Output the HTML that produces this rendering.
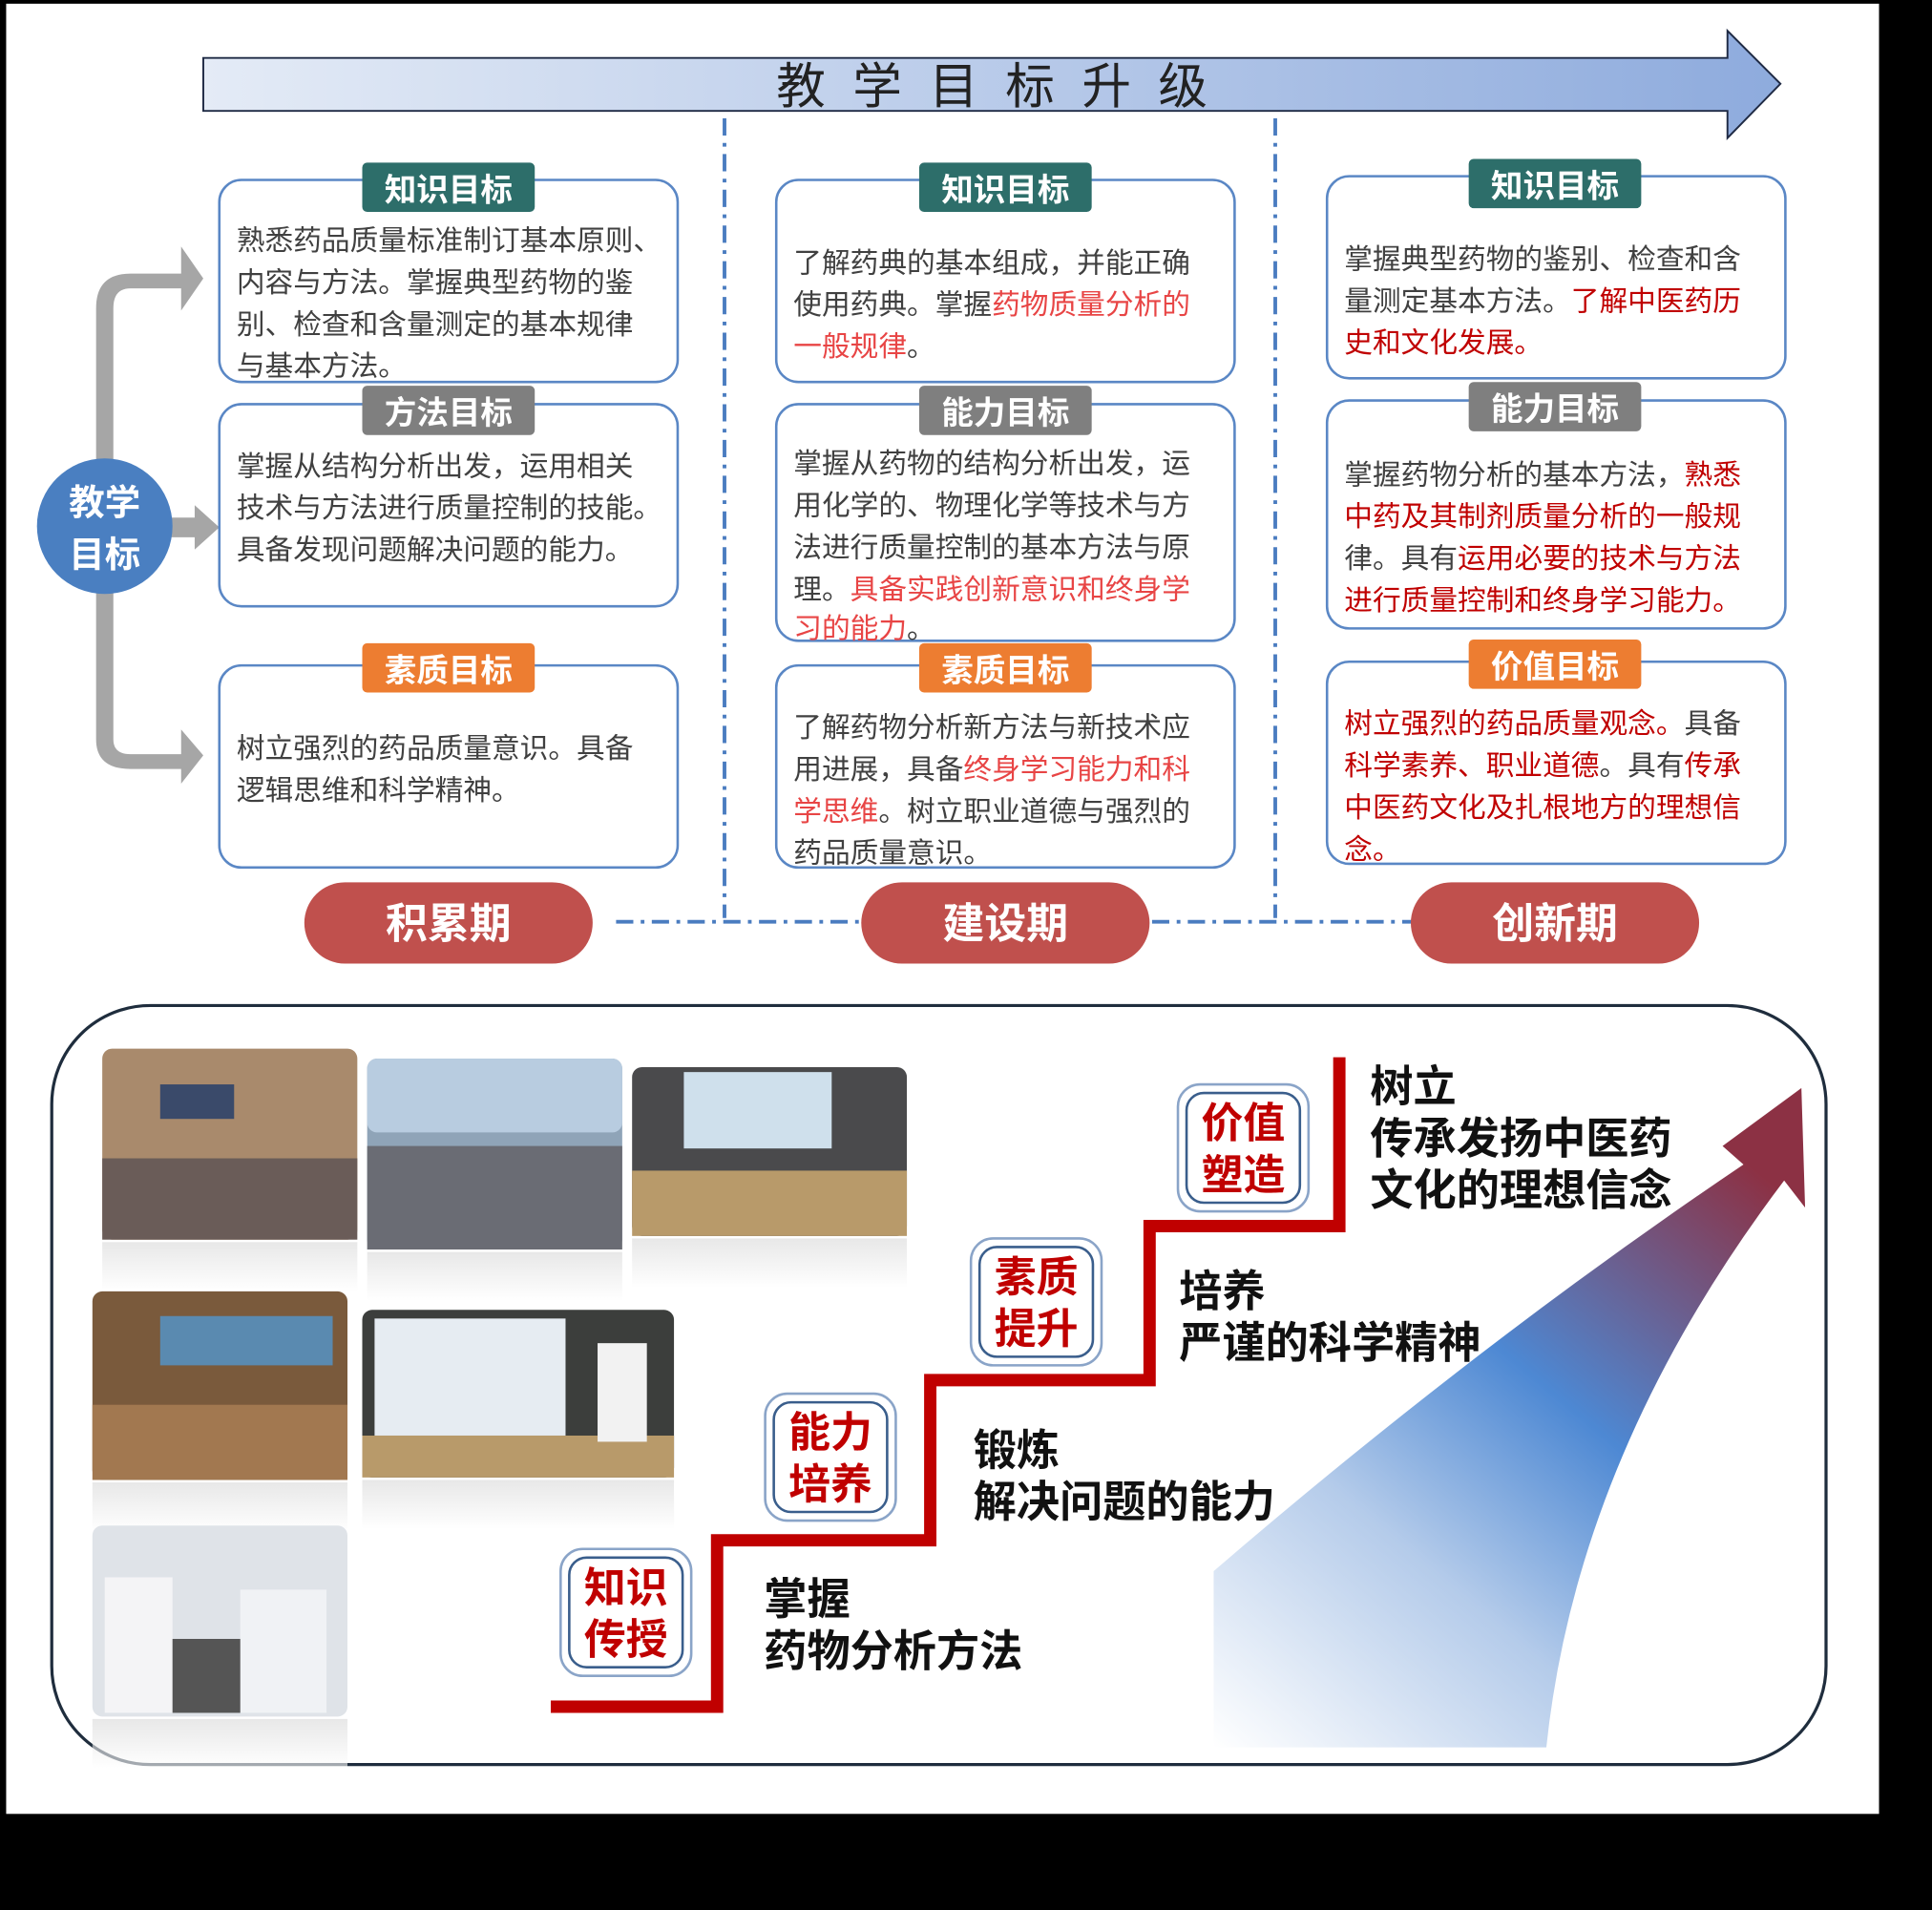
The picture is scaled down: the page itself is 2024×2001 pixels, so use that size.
<!DOCTYPE html>
<html><head><meta charset="utf-8"><style>
html,body{margin:0;padding:0;background:#000;width:2024px;height:2001px;overflow:hidden}
#wrap{width:1568px;height:1550px;transform:scale(1.29082,1.29097);transform-origin:0 0;position:relative}
svg{position:absolute;left:0;top:0}
text{font-family:"Liberation Sans","Noto Sans CJK SC",sans-serif}
</style></head><body><div id="wrap">
<svg width="1568" height="1550" viewBox="0 0 1568 1550" xmlns="http://www.w3.org/2000/svg">
<defs>
<linearGradient id="tg" x1="0" x2="1" y1="0" y2="0"><stop offset="0" stop-color="#e4ebf6"/><stop offset="1" stop-color="#8eabdd"/></linearGradient>
<linearGradient id="ag" x1="0" y1="1" x2="0.75" y2="0"><stop offset="0" stop-color="#ffffff"/><stop offset="0.35" stop-color="#b4cbea"/><stop offset="0.62" stop-color="#4d88d3"/><stop offset="1" stop-color="#8c3144"/></linearGradient>
<linearGradient id="rf" x1="0" y1="0" x2="0" y2="1"><stop offset="0" stop-color="#d8d8d8"/><stop offset="1" stop-color="#ffffff"/></linearGradient>
</defs>
<rect x="5" y="3" width="1520" height="1469" fill="#fff"/>
<path d="M165 47 H1402 V25 L1445 68 L1402 112 V90 H165 Z" fill="url(#tg)" stroke="#1f2a44" stroke-width="1.5"/>
<text x="816" y="84" font-size="40" fill="#222" text-anchor="middle" letter-spacing="22">教学目标升级</text>
<g stroke="#4a7cc0" stroke-width="3" stroke-dasharray="14,6,3,6" fill="none">
<line x1="588" y1="96" x2="588" y2="745"/><line x1="1035" y1="96" x2="1035" y2="745"/>
<line x1="500" y1="748" x2="698" y2="748"/><line x1="935" y1="748" x2="1148" y2="748"/>
</g>
<g fill="#a6a6a6">
<path d="M78 250 Q78 222 106 222 H147 V200 L165 226 L147 252 V234 H106 Q92 234 92 250 V600 Q92 612 106 612 H147 V592 L165 613 L147 636 V624 H106 Q78 624 78 600 Z"/>
<path d="M130 420 H158 V410 L178 428 L158 446 V436 H130 Z"/>
</g>
<circle cx="85" cy="427" r="55" fill="#4a7fc1"/>
<text x="85" y="418" font-size="29" font-weight="bold" fill="#fff" text-anchor="middle">教学</text>
<text x="85" y="460" font-size="29" font-weight="bold" fill="#fff" text-anchor="middle">目标</text>
<g fill="#fff" stroke="#5a87c5" stroke-width="2">
<rect x="178" y="146" width="372" height="164" rx="18"/><rect x="178" y="328" width="372" height="164" rx="18"/><rect x="178" y="540" width="372" height="164" rx="18"/>
<rect x="630" y="146" width="372" height="164" rx="18"/><rect x="630" y="328" width="372" height="192" rx="18"/><rect x="630" y="540" width="372" height="164" rx="18"/>
<rect x="1077" y="143" width="372" height="164" rx="18"/><rect x="1077" y="325" width="372" height="185" rx="18"/><rect x="1077" y="537" width="372" height="164" rx="18"/>
</g>
<g font-size="26" font-weight="bold" fill="#fff" text-anchor="middle">
<rect x="294" y="132" width="140" height="40" rx="4" fill="#2d6e6a"/><text x="364" y="163">知识目标</text>
<rect x="294" y="313" width="140" height="40" rx="4" fill="#7f7f7f"/><text x="364" y="344">方法目标</text>
<rect x="294" y="522" width="140" height="40" rx="4" fill="#ed7d31"/><text x="364" y="553">素质目标</text>
<rect x="746" y="132" width="140" height="40" rx="4" fill="#2d6e6a"/><text x="816" y="163">知识目标</text>
<rect x="746" y="313" width="140" height="40" rx="4" fill="#7f7f7f"/><text x="816" y="344">能力目标</text>
<rect x="746" y="522" width="140" height="40" rx="4" fill="#ed7d31"/><text x="816" y="553">素质目标</text>
<rect x="1192" y="129" width="140" height="40" rx="4" fill="#2d6e6a"/><text x="1262" y="160">知识目标</text>
<rect x="1192" y="310" width="140" height="40" rx="4" fill="#7f7f7f"/><text x="1262" y="341">能力目标</text>
<rect x="1192" y="519" width="140" height="40" rx="4" fill="#ed7d31"/><text x="1262" y="550">价值目标</text>
</g>
<g font-size="23" fill="#404040">
<text x="192" y="203">熟悉药品质量标准制订基本原则、</text>
<text x="192" y="237">内容与方法。掌握典型药物的鉴</text>
<text x="192" y="271">别、检查和含量测定的基本规律</text>
<text x="192" y="305">与基本方法。</text>
<text x="192" y="386">掌握从结构分析出发，运用相关</text>
<text x="192" y="420">技术与方法进行质量控制的技能。</text>
<text x="192" y="454">具备发现问题解决问题的能力。</text>
<text x="192" y="615">树立强烈的药品质量意识。具备</text>
<text x="192" y="649">逻辑思维和科学精神。</text>
<text x="644" y="221">了解药典的基本组成，并能正确</text>
<text x="644" y="255">使用药典。掌握<tspan fill="#e84545">药物质量分析的</tspan></text>
<text x="644" y="289"><tspan fill="#e84545">一般规律</tspan>。</text>
<text x="644" y="384">掌握从药物的结构分析出发，运</text>
<text x="644" y="418">用化学的、物理化学等技术与方</text>
<text x="644" y="452">法进行质量控制的基本方法与原</text>
<text x="644" y="486">理。<tspan fill="#e84545">具备实践创新意识和终身学</tspan></text>
<text x="644" y="518"><tspan fill="#e84545">习的能力</tspan>。</text>
<text x="644" y="598">了解药物分析新方法与新技术应</text>
<text x="644" y="632">用进展，具备<tspan fill="#e84545">终身学习能力和科</tspan></text>
<text x="644" y="666"><tspan fill="#e84545">学思维</tspan>。树立职业道德与强烈的</text>
<text x="644" y="700">药品质量意识。</text>
<text x="1091" y="218">掌握典型药物的鉴别、检查和含</text>
<text x="1091" y="252">量测定基本方法。<tspan fill="#c00000">了解中医药历</tspan></text>
<text x="1091" y="286"><tspan fill="#c00000">史和文化发展。</tspan></text>
<text x="1091" y="393">掌握药物分析的基本方法，<tspan fill="#c00000">熟悉</tspan></text>
<text x="1091" y="427" fill="#c00000">中药及其制剂质量分析的一般规</text>
<text x="1091" y="461">律。具有<tspan fill="#c00000">运用必要的技术与方法</tspan></text>
<text x="1091" y="495" fill="#c00000">进行质量控制和终身学习能力。</text>
<text x="1091" y="595" fill="#c00000">树立强烈的药品质量观念。<tspan fill="#404040">具备</tspan></text>
<text x="1091" y="629"><tspan fill="#c00000">科学素养、职业道德</tspan>。具有<tspan fill="#c00000">传承</tspan></text>
<text x="1091" y="663" fill="#c00000">中医药文化及扎根地方的理想信</text>
<text x="1091" y="697" fill="#c00000">念。</text>
</g>
<g fill="#c0504d"><rect x="247" y="716" width="234" height="66" rx="33"/><rect x="699" y="716" width="234" height="66" rx="33"/><rect x="1145" y="716" width="234" height="66" rx="33"/></g>
<g font-size="34" font-weight="bold" fill="#fff" text-anchor="middle"><text x="364" y="761">积累期</text><text x="816" y="761">建设期</text><text x="1262" y="761">创新期</text></g>
<rect x="42" y="816" width="1440" height="616" rx="80" fill="#fff" stroke="#1f2d3d" stroke-width="2.5"/>
<g>
<rect x="83" y="1008" width="207" height="40" fill="url(#rf)" opacity="0.6"/>
<rect x="298" y="1016" width="207" height="40" fill="url(#rf)" opacity="0.6"/>
<rect x="513" y="1005" width="223" height="40" fill="url(#rf)" opacity="0.6"/>
<rect x="75" y="1203" width="207" height="40" fill="url(#rf)" opacity="0.6"/>
<rect x="294" y="1201" width="253" height="40" fill="url(#rf)" opacity="0.6"/>
<rect x="75" y="1395" width="207" height="40" fill="url(#rf)" opacity="0.6"/>
<rect x="83" y="851" width="207" height="155" rx="8" fill="#a98a6c"/>
<rect x="83" y="940" width="207" height="66" fill="#6a5c58"/>
<rect x="130" y="880" width="60" height="28" fill="#3a4a6a"/>
<rect x="298" y="859" width="207" height="155" rx="8" fill="#8fa4b8"/>
<rect x="298" y="859" width="207" height="60" rx="8" fill="#b8cce0"/>
<rect x="298" y="930" width="207" height="84" fill="#6a6c74"/>
<rect x="513" y="866" width="223" height="137" rx="8" fill="#4a4a4c"/>
<rect x="555" y="870" width="120" height="62" fill="#cfe0ec"/>
<rect x="513" y="950" width="223" height="53" fill="#b89a6a"/>
<rect x="75" y="1048" width="207" height="153" rx="8" fill="#7a5a3c"/>
<rect x="130" y="1068" width="140" height="40" fill="#5a8ab0"/>
<rect x="75" y="1140" width="207" height="61" fill="#a27850"/>
<rect x="294" y="1063" width="253" height="136" rx="8" fill="#3c3e3c"/>
<rect x="304" y="1070" width="155" height="95" fill="#e6ecf2"/>
<rect x="294" y="1165" width="253" height="34" fill="#b89a6a"/>
<rect x="485" y="1090" width="40" height="80" fill="#f2f2f2"/>
<rect x="75" y="1238" width="207" height="155" rx="8" fill="#dfe3e8"/>
<rect x="85" y="1280" width="55" height="110" fill="#f4f4f6"/>
<rect x="195" y="1290" width="70" height="100" fill="#f0f2f5"/>
<rect x="140" y="1330" width="55" height="60" fill="#555"/>
</g>
<path d="M985 1275 Q1200 1090 1415 945 L1398 930 L1462 883 L1465 980 L1448 958 Q1280 1180 1255 1418 L985 1418 Z" fill="url(#ag)"/>
<path d="M447 1385 H582 V1250 H755 V1120 H933 V995 H1087 V858" fill="none" stroke="#c00000" stroke-width="10"/>
<g fill="#fff" stroke="#3a5e8c" stroke-width="2">
<rect x="455" y="1257" width="106" height="103" rx="18" stroke="#8aa4c8"/><rect x="462" y="1264" width="92" height="89" rx="14"/>
<rect x="621" y="1131" width="106" height="103" rx="18" stroke="#8aa4c8"/><rect x="628" y="1138" width="92" height="89" rx="14"/>
<rect x="788" y="1005" width="106" height="103" rx="18" stroke="#8aa4c8"/><rect x="795" y="1012" width="92" height="89" rx="14"/>
<rect x="956" y="880" width="106" height="103" rx="18" stroke="#8aa4c8"/><rect x="963" y="887" width="92" height="89" rx="14"/>
</g>
<g font-size="34" font-weight="bold" fill="#c00000" text-anchor="middle">
<text x="508" y="1300">知识</text><text x="508" y="1342">传授</text>
<text x="674" y="1174">能力</text><text x="674" y="1216">培养</text>
<text x="841" y="1048">素质</text><text x="841" y="1090">提升</text>
<text x="1009" y="923">价值</text><text x="1009" y="965">塑造</text>
</g>
<g font-size="35" font-weight="bold" fill="#111">
<text x="620" y="1310">掌握</text><text x="620" y="1352">药物分析方法</text>
<text x="790" y="1189">锻炼</text><text x="790" y="1231">解决问题的能力</text>
<text x="957" y="1060">培养</text><text x="957" y="1102">严谨的科学精神</text>
<text x="1112" y="894">树立</text><text x="1112" y="936">传承发扬中医药</text><text x="1112" y="978">文化的理想信念</text>
</g>
</svg>
</div></body></html>
